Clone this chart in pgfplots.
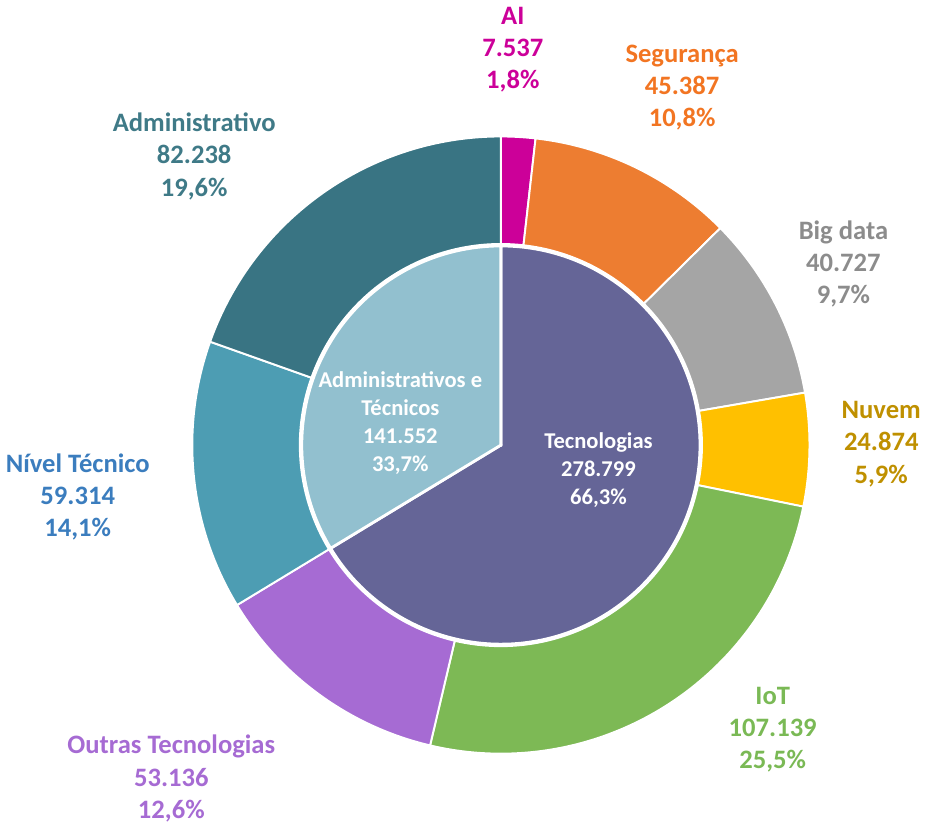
\documentclass[border=0pt]{standalone}
\usepackage{pgfplots}
\pgfplotsset{compat=1.18}
\usepackage{pgfplotstable}
\usepackage{fontspec}
\setmainfont{Carlito}

\definecolor{fAI}{HTML}{CC0099}
\definecolor{fSeg}{HTML}{ED7D31}
\definecolor{fBig}{HTML}{A5A5A5}
\definecolor{fNuv}{HTML}{FFC000}
\definecolor{fIoT}{HTML}{7DB955}
\definecolor{fOut}{HTML}{A66BD3}
\definecolor{fNiv}{HTML}{4D9DB3}
\definecolor{fAdm}{HTML}{397483}
\definecolor{fTec}{HTML}{656597}
\definecolor{fAdT}{HTML}{92C0CF}
\definecolor{tAI}{HTML}{CC0099}
\definecolor{tSeg}{HTML}{F27522}
\definecolor{tBig}{HTML}{8C8C8C}
\definecolor{tNuv}{HTML}{BF9000}
\definecolor{tIoT}{HTML}{7AB955}
\definecolor{tOut}{HTML}{A66BD3}
\definecolor{tNiv}{HTML}{3B7DBE}
\definecolor{tAdm}{HTML}{3F7A87}

% outer ring (clockwise from top)
\pgfplotstableread[col sep=comma]{
name,value,fc,tc,lx,ly
AI,7537,fAI,tAI,511,785
Segurança,45387,fSeg,tSeg,681,747
Big data,40727,fBig,tBig,843,570
Nuvem,24874,fNuv,tNuv,881,389
IoT,107139,fIoT,tIoT,772,102
Outras Tecnologias,53136,fOut,tOut,168,53
Nível Técnico,59314,fNiv,tNiv,74,336
Administrativo,82238,fAdm,tAdm,191,678
}\outerdata

% inner pie
\pgfplotstableread[col sep=comma]{
name,value,fc,tc,lx,ly
Tecnologias,278799,fTec,white,597,363
{Administrativos e\\Técnicos},141552,fAdT,white,398,410
}\innerdata

\newcommand\thousands[2]{% macro <- value/1000, computed with the fpu
  \begingroup
  \pgfkeys{/pgf/fpu=true,/pgf/fpu/output format=fixed}%
  \pgfmathparse{#2/1000}%
  \xdef\thtmp{\pgfmathresult}%
  \endgroup
  \let#1\thtmp
}

\newcommand\drawring[5]{% table, inner radius, outer radius, border width, font
  \pgfplotstablegetrowsof{#1}\pgfmathtruncatemacro\nlast{\pgfplotsretval-1}
  \gdef\total{0}
  \foreach \i in {0,...,\nlast}{%
    \pgfplotstablegetelem{\i}{value}\of#1%
    \thousands\vk{\pgfplotsretval}%
    \pgfmathsetmacro\t{\total+\vk}\xdef\total{\t}}
  \gdef\cum{0}
  \foreach \i in {0,...,\nlast}{%
    \pgfplotstablegetelem{\i}{value}\of#1\let\vraw\pgfplotsretval
    \thousands\v{\vraw}%
    \pgfplotstablegetelem{\i}{fc}\of#1\let\fc\pgfplotsretval
    \pgfplotstablegetelem{\i}{tc}\of#1\let\tc\pgfplotsretval
    \pgfplotstablegetelem{\i}{name}\of#1\let\nm\pgfplotsretval
    \pgfplotstablegetelem{\i}{lx}\of#1\let\lx\pgfplotsretval
    \pgfplotstablegetelem{\i}{ly}\of#1\let\ly\pgfplotsretval
    \pgfmathsetmacro\a{90-\cum/\total*360}
    \pgfmathsetmacro\b{90-(\cum+\v)/\total*360}
    \pgfmathsetmacro\p{\v/\total*100}
    \fill[fill=\fc,draw=white,line width=#4]
      ([shift={(\a:#3)}]C) arc[start angle=\a,end angle=\b,radius=#3]
      -- ([shift={(\b:#2)}]C) arc[start angle=\b,end angle=\a,radius=#2] -- cycle;
    \node[text=\tc,align=center,font=#5] at (axis cs:\lx,\ly)
      {\nm\\\pgfmathprintnumber[fixed,precision=0,1000 sep={.},assume math mode=true]{\vraw}\\\pgfmathprintnumber[fixed,fixed zerofill,precision=1,use comma,assume math mode=true]{\p}\%};
    \pgfmathsetmacro\nc{\cum+\v}\xdef\cum{\nc}
  }
}

\begin{document}
\begin{tikzpicture}
\begin{axis}[
  x=0.02cm, y=0.02cm,
  xmin=0, xmax=935, ymin=0, ymax=835,
  enlargelimits=false,
  hide axis,
  clip=false,
]
\pgfplotsextra{
  \path (axis cs:0,0) rectangle (axis cs:935,835);
  \coordinate (C) at (axis cs:499,388);
  \drawring{\outerdata}{4.04cm}{6.2cm}{1.1pt}{\bfseries\fontsize{15.2}{18.4}\selectfont}
  \drawring{\innerdata}{0.001cm}{4.0cm}{1.6pt}{\bfseries\fontsize{12.9}{15.9}\selectfont}
}
\end{axis}
\end{tikzpicture}
\end{document}
